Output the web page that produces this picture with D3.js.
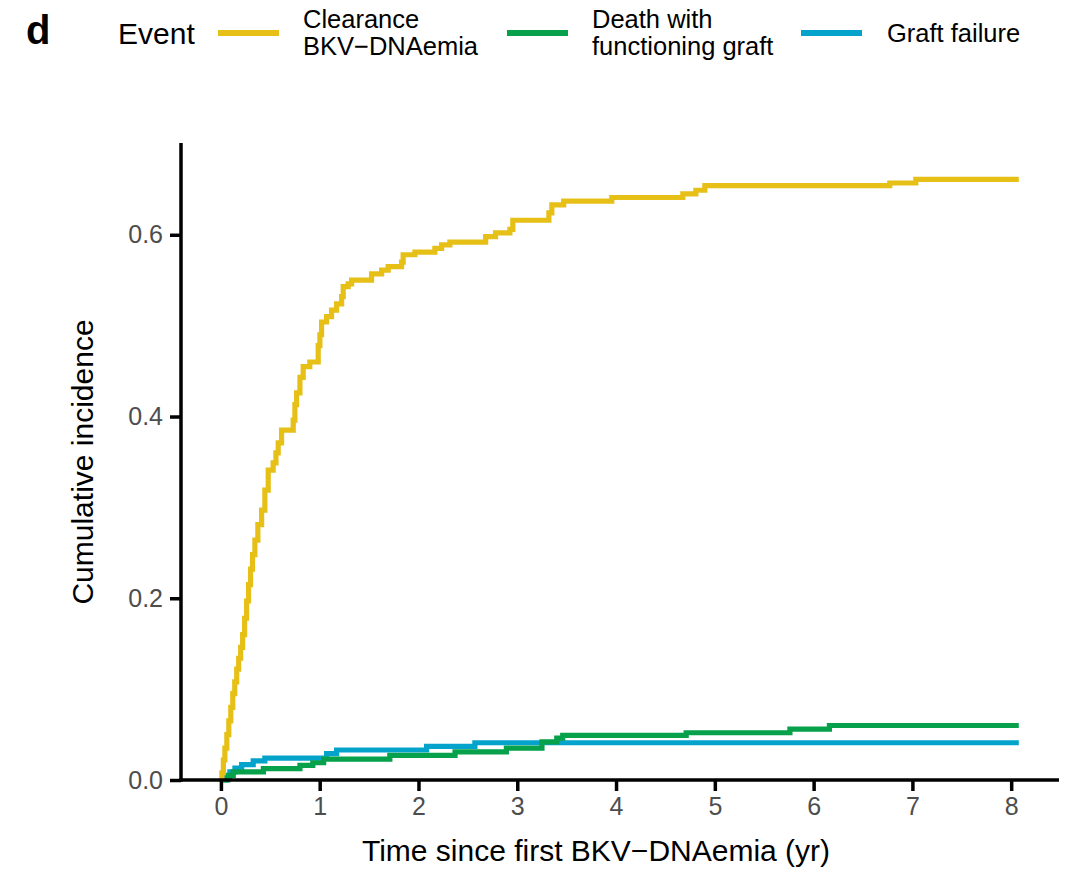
<!DOCTYPE html>
<html>
<head>
<meta charset="utf-8">
<script src="https://cdn.jsdelivr.net/npm/d3@7"></script>
<style>
  html, body { margin: 0; padding: 0; background: #ffffff; }
  svg { display: block; font-family: "Liberation Sans", Arial, Helvetica, sans-serif; }
</style>
</head>
<body>
<svg id="chart" width="1074" height="872"></svg>
<script>
// Cumulative incidence curves (step functions), times in years
const clearanceTime = [0.000, 0.010, 0.025, 0.040, 0.060, 0.080, 0.100, 0.120, 0.140, 0.160,
  0.180, 0.200, 0.220, 0.240, 0.260, 0.280, 0.300, 0.320, 0.344, 0.374,
  0.412, 0.445, 0.479, 0.529, 0.557, 0.580, 0.614, 0.732, 0.749, 0.766,
  0.800, 0.833, 0.900, 0.985, 1.002, 1.019, 1.070, 1.120, 1.171, 1.222,
  1.238, 1.288, 1.323, 1.525, 1.627, 1.693, 1.829, 1.845, 1.964, 2.166,
  2.234, 2.318, 2.680, 2.780, 2.925, 2.955, 3.320, 3.350, 3.470, 3.957,
  4.676, 4.808, 4.899, 6.771, 7.034, 8.077];
const clearanceValue = [0.000, 0.008, 0.022, 0.035, 0.050, 0.065, 0.080, 0.095, 0.108, 0.122,
  0.134, 0.146, 0.160, 0.178, 0.197, 0.215, 0.232, 0.248, 0.264, 0.281,
  0.297, 0.319, 0.341, 0.349, 0.360, 0.371, 0.385, 0.396, 0.413, 0.426,
  0.443, 0.455, 0.460, 0.478, 0.490, 0.504, 0.510, 0.517, 0.524, 0.532,
  0.543, 0.546, 0.550, 0.557, 0.561, 0.565, 0.570, 0.578, 0.581, 0.585,
  0.589, 0.592, 0.598, 0.602, 0.606, 0.616, 0.624, 0.633, 0.637, 0.641,
  0.645, 0.649, 0.654, 0.657, 0.661, 0.661];

const deathTime = [0.000, 0.070, 0.125, 0.430, 0.800, 0.930, 1.040, 1.710, 2.370, 2.890,
  3.250, 3.400, 3.460, 4.710, 5.760, 6.160, 8.077];
const deathValue = [0.000, 0.005, 0.009, 0.0125, 0.016, 0.019, 0.023, 0.027, 0.031, 0.035,
  0.042, 0.046, 0.049, 0.052, 0.056, 0.060, 0.060];

const failureTime = [0.000, 0.050, 0.091, 0.142, 0.210, 0.327, 0.445, 1.070, 1.171, 2.082,
  2.571, 8.077];
const failureValue = [0.000, 0.004, 0.009, 0.013, 0.017, 0.021, 0.024, 0.029, 0.033, 0.037,
  0.041, 0.041];

const eventLabels = [["Clearance", "BKV\u2212DNAemia"], ["Death with", "functioning graft"], ["Graft failure"]];
const eventColors = ["#E6C017", "#06A14A", "#04A3CB"];
const xTicks = [0, 1, 2, 3, 4, 5, 6, 7, 8];
const yTicks = [0.0, 0.2, 0.4, 0.6];

const svg = d3.select("#chart");

const x = d3.scaleLinear().domain([-0.404, 8.484]).range([181, 1059]);
const y = d3.scaleLinear().domain([0, 0.701]).range([780, 143]);

const series = [
  { time: clearanceTime, value: clearanceValue },
  { time: deathTime, value: deathValue },
  { time: failureTime, value: failureValue }
];

const line = d3.line()
  .x(d => x(d[0]))
  .y(d => y(d[1]))
  .curve(d3.curveStepAfter);

// curves, drawn so clearance sits on top
const drawOrder = [2, 1, 0];
drawOrder.forEach(i => {
  const s = series[i];
  const pts = s.time.map((t, k) => [t, s.value[k]]);
  svg.append("path")
    .attr("d", line(pts))
    .attr("fill", "none")
    .attr("stroke", eventColors[i])
    .attr("stroke-width", 5.2)
    .attr("stroke-linejoin", "miter");
});

// axes
const xAxis = d3.axisBottom(x).tickValues(xTicks).tickFormat(d3.format("d")).tickSize(11).tickPadding(6);
const yAxis = d3.axisLeft(y).tickValues(yTicks).tickFormat(d3.format(".1f")).tickSize(11).tickPadding(7);

const gx = svg.append("g").attr("transform", "translate(0,780)").call(xAxis);
const gy = svg.append("g").attr("transform", "translate(181,0)").call(yAxis);

[gx, gy].forEach(g => {
  g.select(".domain").attr("stroke", "#000").attr("stroke-width", 3.5);
  g.selectAll(".tick line").attr("stroke", "#000").attr("stroke-width", 3.5);
  g.selectAll(".tick text").attr("fill", "#4D4D4D").style("font-size", "25px")
    .style("font-family", "'Liberation Sans', Arial, sans-serif");
});
// axis lines without end caps
gx.select(".domain").attr("d", `M${x.range()[0] - 1.75},0H${x.range()[1]}`);
gy.select(".domain").attr("d", `M0,${y.range()[1]}V${y.range()[0] + 1.75}`);

// axis titles
svg.append("text")
  .attr("x", 596).attr("y", 861)
  .attr("text-anchor", "middle")
  .style("font-size", "30px")
  .attr("fill", "#000")
  .text("Time since first BKV\u2212DNAemia (yr)");

svg.append("text")
  .attr("transform", "translate(93,462) rotate(-90)")
  .attr("text-anchor", "middle")
  .style("font-size", "30px")
  .attr("fill", "#000")
  .text("Cumulative incidence");

// panel letter
svg.append("text")
  .attr("x", 26).attr("y", 44)
  .style("font-size", "40px").style("font-weight", "bold")
  .attr("fill", "#000")
  .text("d");

// legend
svg.append("text")
  .attr("x", 118).attr("y", 44)
  .style("font-size", "30px")
  .attr("fill", "#000")
  .text("Event");

const keyX = [218, 507, 801];
const labelX = [303, 592, 887];
eventLabels.forEach((lab, i) => {
  svg.append("line")
    .attr("x1", keyX[i]).attr("x2", keyX[i] + 61)
    .attr("y1", 33).attr("y2", 33)
    .attr("stroke", eventColors[i]).attr("stroke-width", 6);
  const t = svg.append("text")
    .attr("x", labelX[i])
    .style("font-size", "25.5px")
    .attr("fill", "#000");
  if (lab.length === 2) {
    t.append("tspan").attr("x", labelX[i]).attr("y", 28).text(lab[0]);
    t.append("tspan").attr("x", labelX[i]).attr("y", 55).text(lab[1]);
  } else {
    t.attr("y", 42).text(lab[0]);
  }
});
</script>
</body>
</html>
